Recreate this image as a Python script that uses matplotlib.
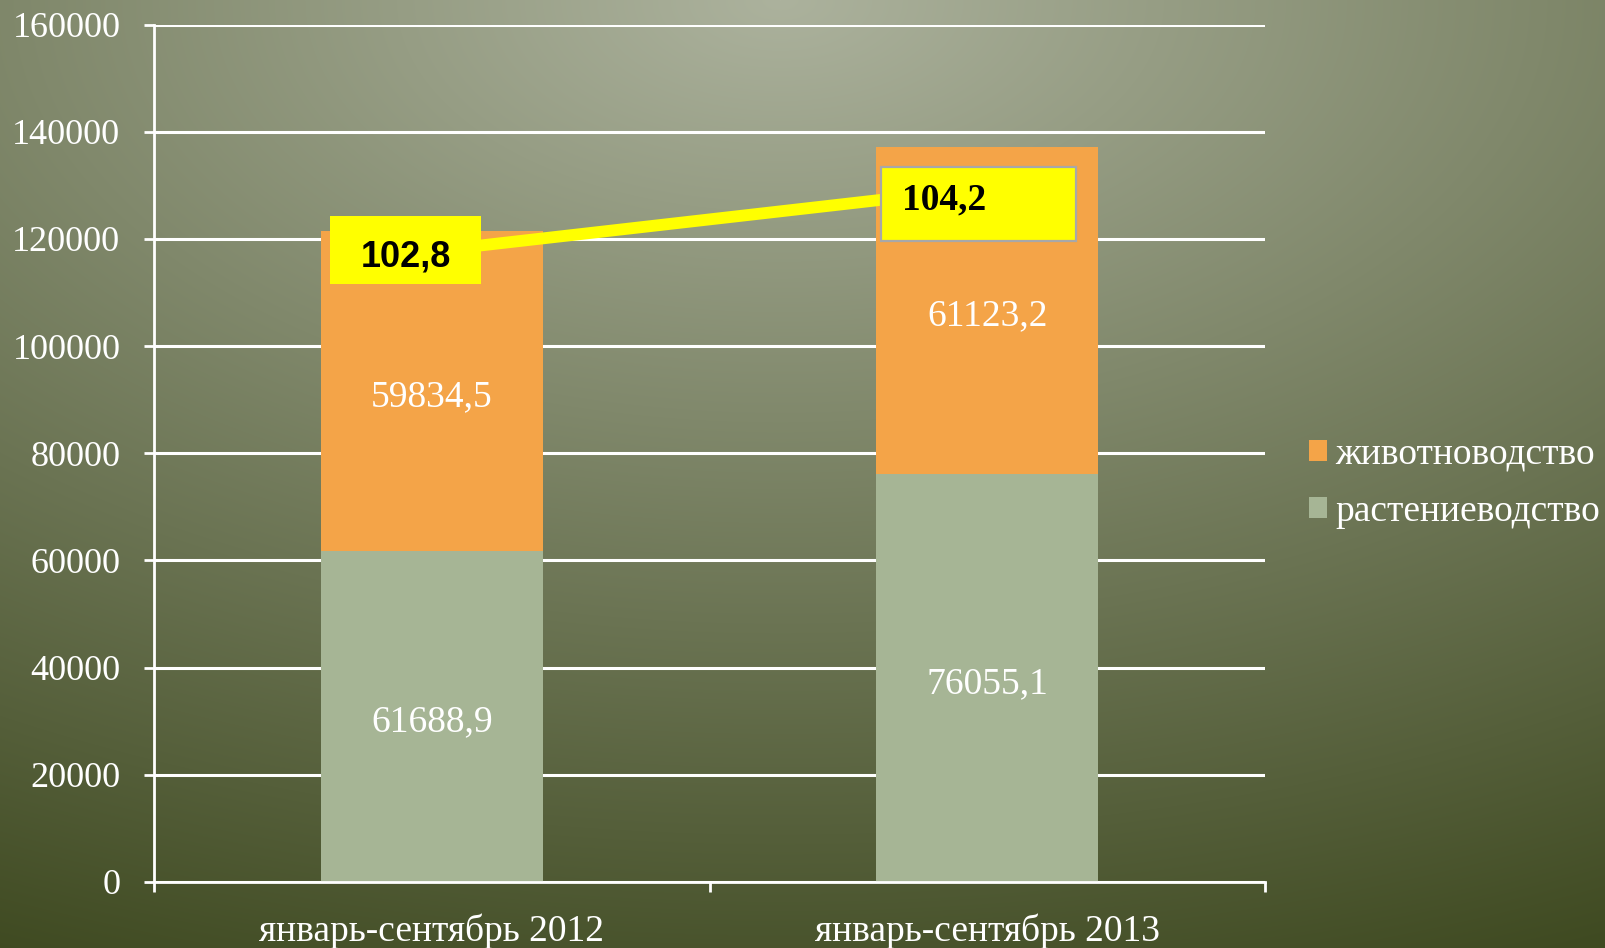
import numpy as np
import matplotlib
matplotlib.use("Agg")
import matplotlib.pyplot as plt
import matplotlib.transforms as mtransforms
from matplotlib.patches import Rectangle, Patch

# ---- data ----
categories = ["январь-сентябрь 2012", "январь-сентябрь 2013"]
crop = [61688.9, 76055.1]        # растениеводство
livestock = [59834.5, 61123.2]   # животноводство
index_pct = [102.8, 104.2]
index_labels = ["102,8", "104,2"]
yticks = [0, 20000, 40000, 60000, 80000, 100000, 120000, 140000, 160000]
series_names = ["животноводство", "растениеводство"]

ORANGE = "#F4A448"
GREEN = "#A6B595"
YELLOW = "#FFFF00"
SERIF = "Liberation Serif"

W, H, DPI = 1605, 948, 100
fig = plt.figure(figsize=(W / DPI, H / DPI), dpi=DPI)

# background radial gradient
bg = fig.add_axes([0, 0, 1, 1], zorder=-10)
yy, xx = np.mgrid[0:H, 0:W]
r = np.sqrt(((xx - 780) / 1900.0) ** 2 + (yy / 1045.0) ** 2)
r = np.clip(r, 0, 1)
c0 = np.array([172, 178, 157]) / 255.0
c1 = np.array([63, 74, 33]) / 255.0
img = c0[None, None, :] + (c1 - c0)[None, None, :] * r[:, :, None]
bg.imshow(img, aspect="auto", interpolation="bilinear")
bg.axis("off")

left, right = 154 / W, 1265 / W
bottom, top = 1 - 882 / H, 1 - 24.6 / H
ax = fig.add_axes([left, bottom, right - left, top - bottom])
ax.patch.set_alpha(0)

x = np.arange(len(categories))
bw = 0.4
b1 = ax.bar(x, crop, bw, color=GREEN, zorder=2)
b2 = ax.bar(x, livestock, bw, bottom=crop, color=ORANGE, zorder=2)

fmt = lambda v: f"{v:.1f}".replace(".", ",")
down = mtransforms.offset_copy(ax.transData, fig=fig, x=0, y=-5.5, units="dots")
for i in range(len(x)):
    ax.text(x[i], crop[i] / 2, fmt(crop[i]), ha="center", va="center",
            color="white", fontsize=27, family=SERIF, zorder=3, transform=down)
    ax.text(x[i], crop[i] + livestock[i] / 2, fmt(livestock[i]), ha="center",
            va="center", color="white", fontsize=27, family=SERIF, zorder=3,
            transform=down)

ax.set_xlim(-0.5, 1.5)
ax.set_ylim(0, 160000)
ax.set_yticks(yticks)
ax.set_yticklabels([str(v) for v in yticks])
ax.set_xticks(x)
ax.set_xticklabels(categories)
ax.set_xticks([-0.5, 0.5, 1.5], minor=True)
ax.grid(axis="y", color="white", lw=2.2, zorder=0)
ax.set_axisbelow(True)
for s in ["top", "right"]:
    ax.spines[s].set_visible(False)
for s in ["left", "bottom"]:
    ax.spines[s].set_color("white")
    ax.spines[s].set_linewidth(2)
    ax.spines[s].set_zorder(4)
ax.tick_params(axis="y", colors="white", length=7.2, width=2, pad=17,
               labelsize=26)
ax.tick_params(axis="x", which="major", length=0, pad=23, colors="white",
               labelsize=27)
ax.tick_params(axis="x", which="minor", length=7.2, width=2, colors="white")
for lab in ax.get_xticklabels() + ax.get_yticklabels():
    lab.set_family(SERIF)

# secondary hidden axis for index line
ax2 = ax.twinx()
ax2.set_ylim(88.84, 107.81)
ax2.axis("off")
ax2.plot(x, index_pct, color=YELLOW, lw=8.5, zorder=5, solid_capstyle="butt")

# label boxes (sizes in pixels)
boxes = [
    dict(dx=-26, dy=1.4, w=151, h=68, edge=None, fam="Liberation Sans",
         size=26, tdx=-26 + 0, tdy=-6, ha="center"),
    dict(dx=-9, dy=-16, w=195, h=74, edge="#A8A8A8", fam=SERIF,
         size=27, tdx=-9 - 97.5 + 21, tdy=-12.5, ha="left"),
]
for i, bx in enumerate(boxes):
    base = mtransforms.ScaledTranslation(x[i], index_pct[i], ax2.transData)
    rt = mtransforms.Affine2D().translate(bx["dx"] - bx["w"] / 2,
                                          bx["dy"] - bx["h"] / 2) + base
    rect = Rectangle((0, 0), bx["w"], bx["h"], transform=rt,
                     facecolor=YELLOW,
                     edgecolor=bx["edge"] if bx["edge"] else "none",
                     lw=1.6 if bx["edge"] else 0, zorder=6, clip_on=False)
    ax2.add_patch(rect)
    tt = mtransforms.Affine2D().translate(bx["tdx"], bx["tdy"]) + base
    ax2.text(0, 0, index_labels[i], transform=tt, ha=bx["ha"], va="center",
             fontsize=bx["size"], fontweight="bold", family=bx["fam"],
             color="black", zorder=7, clip_on=False)

handles = [Patch(facecolor=ORANGE, edgecolor="none"),
           Patch(facecolor=GREEN, edgecolor="none")]
leg = fig.legend(handles, series_names, loc="center left",
                 bbox_to_anchor=(1309 / W, 1 - 483 / H), frameon=False,
                 handlelength=0.48, handleheight=0.48, handletextpad=0.22,
                 labelspacing=0.6, borderaxespad=0, borderpad=0,
                 prop=dict(family=SERIF, size=27))
for t in leg.get_texts():
    t.set_color("white")

fig.savefig("out.png", dpi=DPI)
